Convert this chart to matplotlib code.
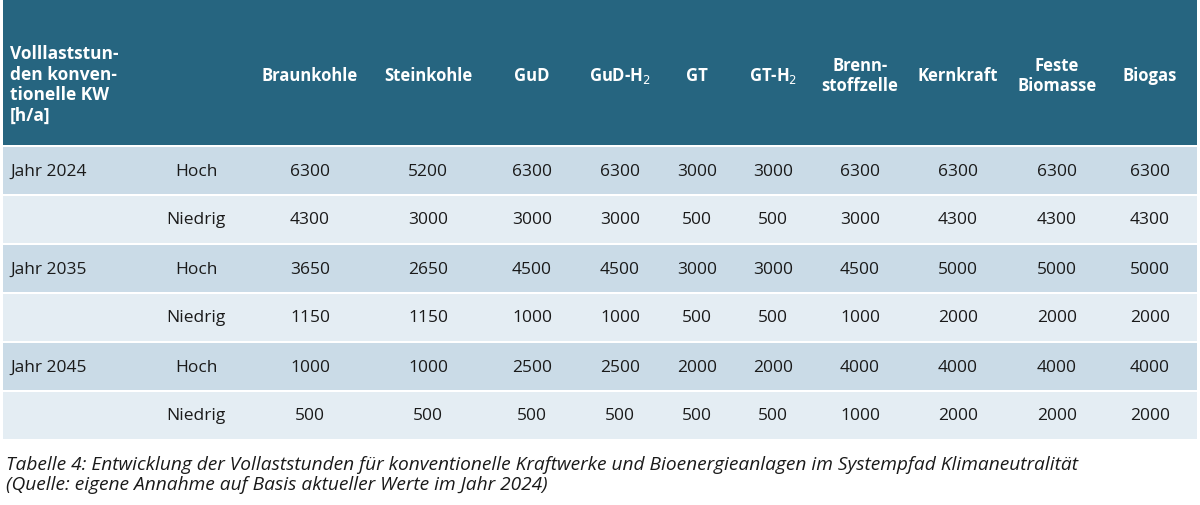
import matplotlib.pyplot as plt
from matplotlib.patches import Rectangle

columns = ["Braunkohle", "Steinkohle", "GuD", "GuD-H$_2$", "GT", "GT-H$_2$",
           "Brenn-\nstoffzelle", "Kernkraft", "Feste\nBiomasse", "Biogas"]
years = ["Jahr 2024", "", "Jahr 2035", "", "Jahr 2045", ""]
levels = ["Hoch", "Niedrig", "Hoch", "Niedrig", "Hoch", "Niedrig"]
values = [
    [6300, 5200, 6300, 6300, 3000, 3000, 6300, 6300, 6300, 6300],
    [4300, 3000, 3000, 3000, 500, 500, 3000, 4300, 4300, 4300],
    [3650, 2650, 4500, 4500, 3000, 3000, 4500, 5000, 5000, 5000],
    [1150, 1150, 1000, 1000, 500, 500, 1000, 2000, 2000, 2000],
    [1000, 1000, 2500, 2500, 2000, 2000, 4000, 4000, 4000, 4000],
    [500, 500, 500, 500, 500, 500, 1000, 2000, 2000, 2000],
]
header_label = "Volllaststun-\nden konven-\ntionelle KW\n[h/a]"
caption = ("Tabelle 4: Entwicklung der Vollaststunden für konventionelle Kraftwerke und Bioenergieanlagen im Systempfad Klimaneutralität\n"
           "(Quelle: eigene Annahme auf Basis aktueller Werte im Jahr 2024)")

plt.rcParams['font.family'] = ['Open Sans', 'DejaVu Sans']
fig = plt.figure(figsize=(12, 5.06), dpi=100)
ax = fig.add_axes([0, 0, 1, 1])
ax.set_xlim(0, 1200); ax.set_ylim(506, 0); ax.axis('off')

x0, x1 = 3, 1197
hdr_c = "#266580"
row_c = ["#cadbe7", "#e4edf3"]
ax.add_patch(Rectangle((x0, 0), x1 - x0, 146, color=hdr_c, lw=0))
col_x = [310, 428, 532, 620, 697, 773, 860, 958, 1057, 1150]
ax.text(10, 85, header_label, ha='left', va='center', color='white',
        fontsize=12.5, fontweight='bold', linespacing=1.2)
for cx, name in zip(col_x, columns):
    ax.text(cx, 76, name, ha='center', va='center', color='white',
            fontsize=12, fontweight='bold', linespacing=1.2)
row_h = 49
y = 148
for i in range(len(levels)):
    ax.add_patch(Rectangle((x0, y), x1 - x0, row_h - 2, color=row_c[i % 2], lw=0))
    yc = y + (row_h - 2) / 2
    ax.text(10, yc, years[i], ha='left', va='center', fontsize=12.5, color='#1a1a1a')
    ax.text(196, yc, levels[i], ha='center', va='center', fontsize=12.5, color='#1a1a1a')
    for cx, v in zip(col_x, values[i]):
        ax.text(cx, yc, str(v), ha='center', va='center', fontsize=12.5, color='#1a1a1a')
    y += row_h
ax.text(6, 475, caption, ha='left', va='center', fontsize=13.8, style='italic',
        color='#1a1a1a', linespacing=1.2)
fig.savefig("out.png", dpi=100)
